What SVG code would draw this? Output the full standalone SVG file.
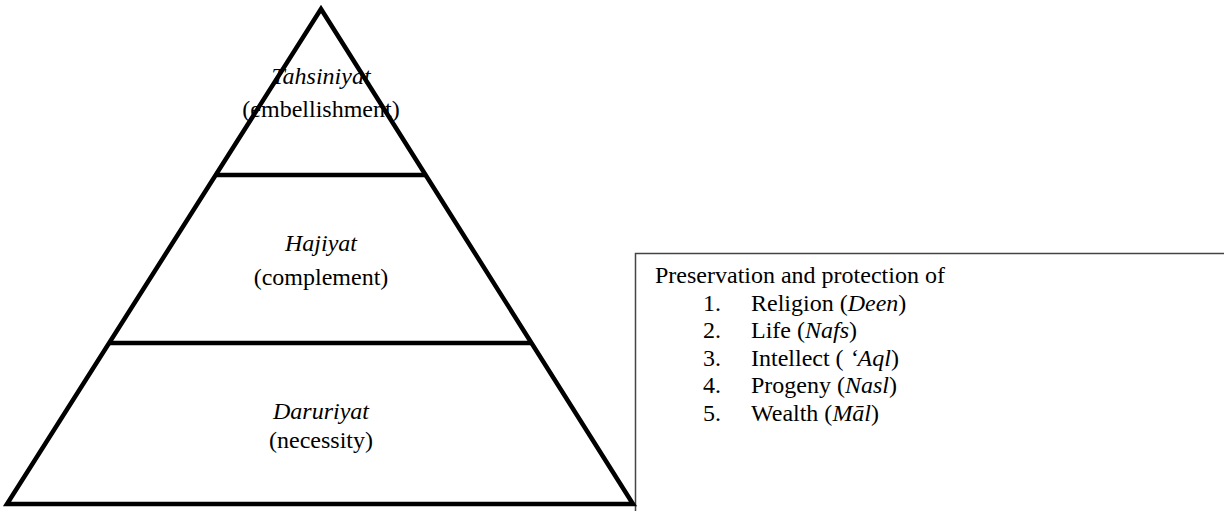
<svg xmlns="http://www.w3.org/2000/svg" width="1224" height="511" viewBox="0 0 1224 511">
<style>
.lbl{font-family:"Liberation Serif","Times New Roman",serif;font-size:24px;fill:#000;text-anchor:middle}
.it{font-style:italic}
.box{font-family:"Liberation Serif","Times New Roman",serif;font-size:24px;fill:#000}
.edge{stroke:#000;stroke-width:4.5;fill:none;stroke-linejoin:miter}
</style>
<rect width="1224" height="511" fill="#fff"/>
<g id="box">
<rect x="635.5" y="253.5" width="620" height="300" fill="#fff" stroke="#444" stroke-width="1.5"/>
<text class="box" x="655" y="283">Preservation and protection of</text>
<text class="box" x="703" y="310.5">1.</text><text class="box" x="751" y="310.5">Religion (<tspan class="it">Deen</tspan>)</text>
<text class="box" x="703" y="338">2.</text><text class="box" x="751" y="338">Life (<tspan class="it">Nafs</tspan>)</text>
<text class="box" x="703" y="365.5">3.</text><text class="box" x="751" y="365.5">Intellect ( <tspan class="it">‘Aql</tspan>)</text>
<text class="box" x="703" y="393">4.</text><text class="box" x="751" y="393">Progeny (<tspan class="it">Nasl</tspan>)</text>
<text class="box" x="703" y="420.5">5.</text><text class="box" x="751" y="420.5">Wealth (<tspan class="it">Māl</tspan>)</text>
</g>
<g id="tahsiniyat">
<text class="lbl it" x="321" y="84">Tahsiniyat</text>
<text class="lbl" x="321" y="117">(embellishment)</text>
</g>
<g id="hajiyat">
<text class="lbl it" x="321" y="251">Hajiyat</text>
<text class="lbl" x="321" y="285">(complement)</text>
</g>
<g id="daruriyat">
<text class="lbl it" x="321" y="419">Daruriyat</text>
<text class="lbl" x="321" y="448">(necessity)</text>
</g>
<g id="connectors">
<polygon class="edge" points="321,9 633,504 7,504"/>
<line class="edge" x1="217" y1="175" x2="426" y2="175"/>
<line class="edge" x1="110" y1="343" x2="532" y2="343"/>
</g>
</svg>
